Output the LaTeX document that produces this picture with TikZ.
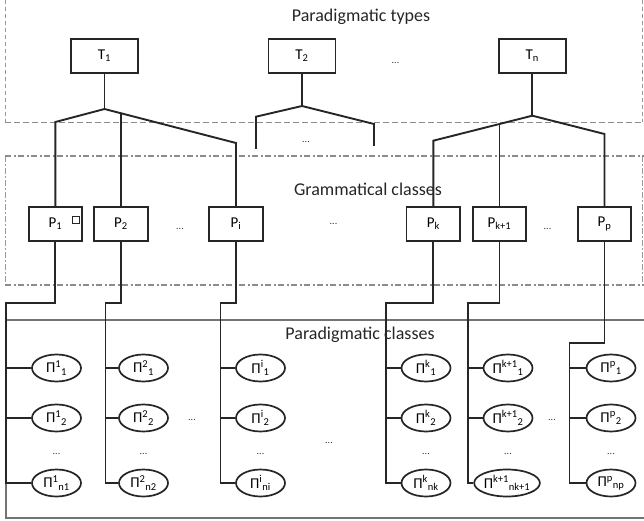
\documentclass[tikz,border=0pt]{standalone}
\usepackage{fontspec}
\setmainfont{Carlito}
\usetikzlibrary{shapes.geometric}
\begin{document}
\begin{tikzpicture}[x=1pt,y=-1pt,
  tree/.style={line width=1.9pt, draw=black!85},
  tbox/.style={draw=black!85, line width=1.8pt, fill=white, minimum width=67pt, minimum height=34pt, inner sep=0pt, font=\fontsize{15}{17}\selectfont},
  pbox/.style={tbox, minimum width=53.5pt},
  pell/.style={ellipse, draw=black!85, line width=1.7pt, fill=white, minimum width=49pt, minimum height=27pt, inner sep=0pt, font=\fontsize{15}{17}\selectfont},
  title/.style={font=\fontsize{18}{20}\selectfont, text=black!85, inner sep=0pt},
  dots/.style={font=\fontsize{10}{12}\selectfont, text=black!80, inner sep=0pt},
  border/.style={draw=black!45, line width=1.6pt},
  thinborder/.style={draw=black!40, line width=0.8pt},
]
\useasboundingbox (0,0) rectangle (644,521);

% ---------- region borders ----------
\draw[thinborder, dash pattern=on 4pt off 3pt] (5,0) -- (5,122.5);
\draw[thinborder, dash pattern=on 4pt off 3pt] (642.5,0) -- (642.5,122.5);
\draw[border, dash pattern=on 6pt off 3pt] (5,122.5) -- (644,122.5);

\draw[thinborder, dash pattern=on 6pt off 2pt on 2pt off 2pt] (5,156) -- (5,285);
\draw[thinborder, dash pattern=on 6pt off 2pt on 2pt off 2pt] (642.5,156) -- (642.5,285);
\draw[border, dash pattern=on 6pt off 2.5pt on 2pt off 2.5pt] (5,156) -- (644,156);
\draw[border, dash pattern=on 6pt off 2.5pt on 2pt off 2.5pt] (5,285) -- (644,285);

\draw[border, draw=black!55, line width=1.8pt] (644,320) -- (6,320) -- (6,518) -- (644,518);

% ---------- titles ----------
\node[title] (ttypes) at (361,17) {Paradigmatic types};
\node[title] (tgram) at (368,189) {Grammatical classes};
\node[title] (tpar) at (360,335) {Paradigmatic classes};

% ---------- type boxes ----------
\node[tbox] (T1) at (104.5,56) {T\textsubscript{1}};
\node[tbox] (T2) at (302,56) {T\textsubscript{2}};
\node[tbox] (Tn) at (532.3,56) {T\textsubscript{n}};
\node[dots] (dT) at (395.5,63) {...};

% ---------- grammatical class boxes ----------
\node[pbox] (P1) at (55.4,224) {P\textsubscript{1}\hspace{10pt}};
\node[pbox] (P2) at (121,224) {P\textsubscript{2}};
\node[pbox] (Pi) at (236,224) {P\textsubscript{i}};
\node[pbox] (Pk) at (433.3,224) {P\textsubscript{k}};
\node[pbox] (Pk1) at (499.5,224) {P\textsubscript{k+1}};
\node[pbox] (Pp) at (604.5,224) {P\textsubscript{p}};
\node[draw=black!85, line width=0.9pt, minimum size=7pt, inner sep=0pt] (sq) at (75.6,220) {};
\node[dots] (dP1) at (180,229) {...};
\node[dots] (dP2) at (333.5,224) {...};
\node[dots] (dP3) at (547.5,229) {...};

% ---------- trees from types ----------
\coordinate (j1) at (104.5,109);
\coordinate (b11) at (55.4,122);
\coordinate (b12) at (121,113.3);
\coordinate (b13) at (236,143);
\draw[tree] (T1.south) -- (j1);
\draw[tree] (P1.north) -- (b11) -- (j1) -- (b13) -- (Pi.north);
\draw[tree] (b12) -- (P2.north);

\coordinate (j2) at (302,106);
\coordinate (b21) at (256,116.7);
\coordinate (e21) at (256,149);
\coordinate (b22) at (374,124);
\coordinate (e22) at (374,146);
\draw[tree] (T2.south) -- (j2);
\draw[tree] (e21) -- (b21) -- (j2) -- (b22) -- (e22);
\node[dots] (dT2) at (306,141.7) {...};

\coordinate (jn) at (532.3,115.7);
\coordinate (bn1) at (433.3,140.7);
\coordinate (bn2) at (499.5,124);
\coordinate (bn3) at (604.5,134);
\draw[tree] (Tn.south) -- (jn);
\draw[tree] (Pk.north) -- (bn1) -- (jn) -- (bn3) -- (Pp.north);
\draw[tree] (bn2) -- (Pk1.north);

% ---------- paradigmatic class ellipses ----------
% column 1
\node[pell] (e11) at (56.5,368) {П\textsuperscript{1}\textsubscript{1}};
\node[pell] (e12) at (56.5,418) {П\textsuperscript{1}\textsubscript{2}};
\node[pell] (e13) at (56.5,483) {П\textsuperscript{1}\textsubscript{n1}};
\node[dots] (d1) at (56.5,454) {...};
% column 2
\node[pell] (e21e) at (143.5,368) {П\textsuperscript{2}\textsubscript{1}};
\node[pell] (e22e) at (143.5,418) {П\textsuperscript{2}\textsubscript{2}};
\node[pell] (e23e) at (143.5,483) {П\textsuperscript{2}\textsubscript{n2}};
\node[dots] (d2) at (143.5,454) {...};
% column i
\node[pell] (ei1) at (260.5,368) {П\textsuperscript{i}\textsubscript{1}};
\node[pell] (ei2) at (260.5,418) {П\textsuperscript{i}\textsubscript{2}};
\node[pell] (ei3) at (260.5,483) {П\textsuperscript{i}\textsubscript{ni}};
\node[dots] (di) at (260.5,454) {...};
% column k
\node[pell] (ek1) at (426,368) {П\textsuperscript{k}\textsubscript{1}};
\node[pell] (ek2) at (426,418) {П\textsuperscript{k}\textsubscript{2}};
\node[pell] (ek3) at (426,483) {П\textsuperscript{k}\textsubscript{nk}};
\node[dots] (dk) at (426,454) {...};
% column k+1
\node[pell] (el1) at (508,368) {П\textsuperscript{k+1}\textsubscript{1}};
\node[pell] (el2) at (508,418) {П\textsuperscript{k+1}\textsubscript{2}};
\node[pell, minimum width=57pt] (el3) at (507,483) {П\textsuperscript{k+1}\textsubscript{nk+1}};
\node[dots] (dl) at (508,454) {...};
% column p
\node[pell] (ep1) at (611,368) {П\textsuperscript{p}\textsubscript{1}};
\node[pell] (ep2) at (611,418) {П\textsuperscript{p}\textsubscript{2}};
\node[pell] (ep3) at (611,483) {П\textsuperscript{p}\textsubscript{np}};
\node[dots] (dp) at (611,454) {...};

\node[dots] (dE1) at (192,420) {...};
\node[dots] (dE2) at (329,443) {...};
\node[dots] (dE3) at (552,420) {...};

% ---------- trees from grammatical classes ----------
\coordinate (c1) at (6,303);
\coordinate (c2) at (105.5,303);
\coordinate (ci) at (220.5,303);
\coordinate (ck) at (386,303);
\coordinate (cl) at (468,303);
\coordinate (cp) at (569.5,343);

\draw[tree] (P1.south) |- (c1) |- (e13.west);
\draw[tree] (c1 |- e11.west) -- (e11.west);
\draw[tree] (c1 |- e12.west) -- (e12.west);

\draw[tree] (P2.south) |- (c2) |- (e23e.west);
\draw[tree] (c2 |- e21e.west) -- (e21e.west);
\draw[tree] (c2 |- e22e.west) -- (e22e.west);

\draw[tree] (Pi.south) |- (ci) |- (ei3.west);
\draw[tree] (ci |- ei1.west) -- (ei1.west);
\draw[tree] (ci |- ei2.west) -- (ei2.west);

\draw[tree] (Pk.south) |- (ck) |- (ek3.west);
\draw[tree] (ck |- ek1.west) -- (ek1.west);
\draw[tree] (ck |- ek2.west) -- (ek2.west);

\draw[tree] (Pk1.south) |- (cl) |- (el3.west);
\draw[tree] (cl |- el1.west) -- (el1.west);
\draw[tree] (cl |- el2.west) -- (el2.west);

\draw[tree] (Pp.south) |- (cp) |- (ep3.west);
\draw[tree] (cp |- ep1.west) -- (ep1.west);
\draw[tree] (cp |- ep2.west) -- (ep2.west);
\end{tikzpicture}
\end{document}
